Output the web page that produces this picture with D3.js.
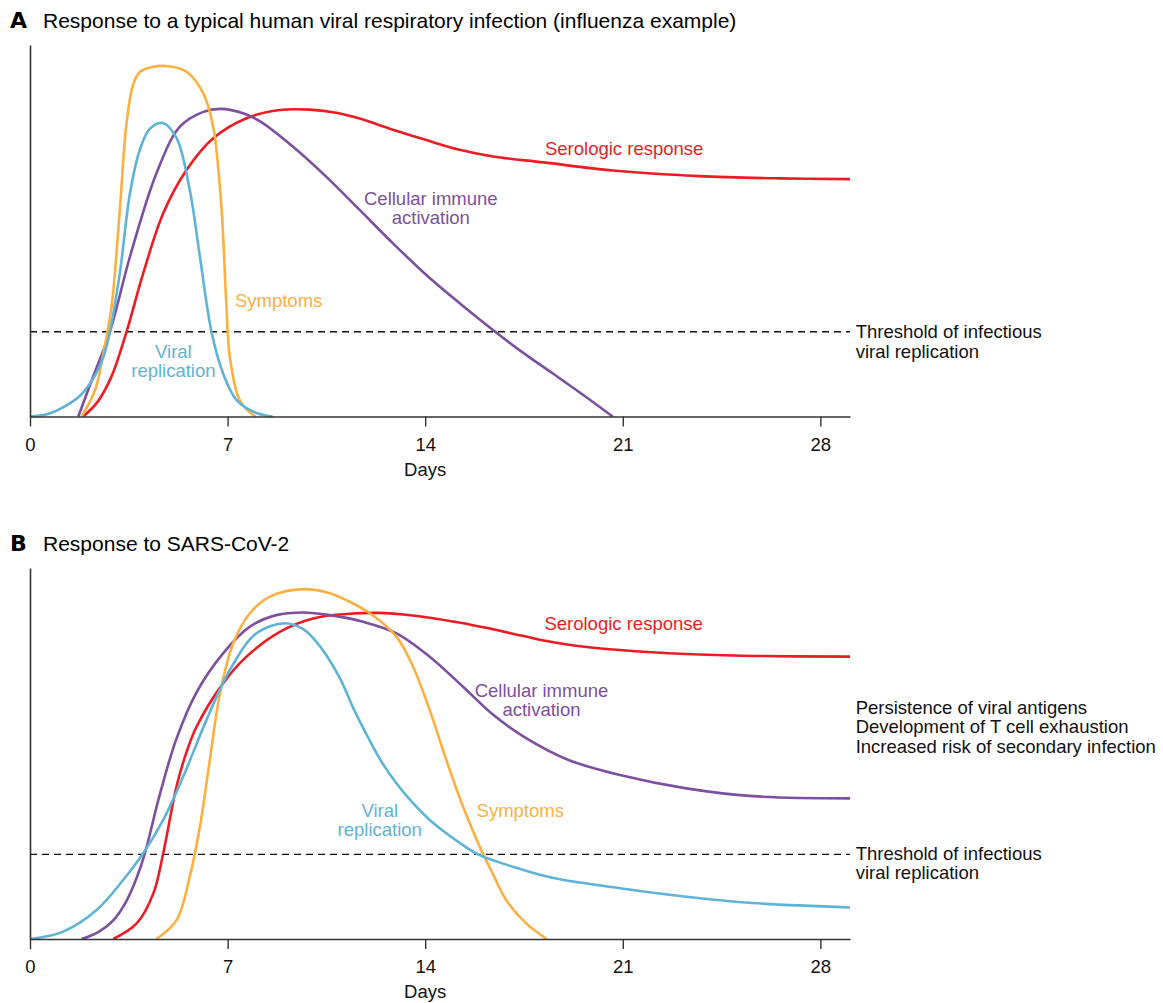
<!DOCTYPE html>
<html>
<head>
<meta charset="utf-8">
<script src="https://cdn.jsdelivr.net/npm/d3@7"></script>
<style>
    body { margin: 0; background: #fff; }
    svg { display: block; font-family: "Liberation Sans", Arial, Helvetica, sans-serif; }
</style>
</head>
<body>
<svg id="chart" width="1163" height="1003"></svg>
<script>
// x ticks (days)
var dayTicks = [0, 7, 14, 21, 28];
var threshold = 0.228;

// Panel A: influenza, [day, relative level]
var fluViral = [[0,0],[0.6,0.006],[1.2,0.026],[1.8,0.058],[2.3,0.11],[2.6,0.16],[2.83,0.228],[3.19,0.39],[3.54,0.6],[3.9,0.72],[4.25,0.775],[4.7,0.79],[5.19,0.75],[5.66,0.61],[6.02,0.43],[6.43,0.228],[6.84,0.116],[7.32,0.044],[8.0,0.01],[8.6,0]];
var fluSymptoms = [[1.83,0],[2.3,0.07],[2.6,0.17],[2.89,0.296],[3.19,0.565],[3.42,0.79],[3.66,0.895],[3.9,0.928],[4.3,0.94],[4.9,0.943],[5.55,0.928],[6.14,0.87],[6.49,0.78],[6.78,0.565],[6.96,0.296],[7.08,0.16],[7.43,0.044],[7.9,0.004],[8.0,0]];
var fluCellular = [[1.71,0],[2.2,0.1],[2.83,0.228],[3.54,0.43],[4.48,0.655],[5.31,0.78],[6.14,0.82],[6.78,0.828],[7.55,0.816],[8.14,0.795],[9.32,0.726],[10.5,0.645],[11.68,0.556],[12.86,0.466],[14.04,0.381],[15.22,0.305],[16.4,0.233],[17.5,0.17],[18.5,0.117],[19.6,0.058],[20.64,0]];
var fluSerologic = [[1.89,0],[2.4,0.04],[2.9,0.11],[3.42,0.228],[4.01,0.385],[4.72,0.547],[5.55,0.664],[6.49,0.749],[7.67,0.803],[8.85,0.825],[9.9,0.826],[10.9,0.817],[11.68,0.802],[12.86,0.772],[14.04,0.744],[15.22,0.718],[16.4,0.7],[18.2,0.684],[20.65,0.662],[23.7,0.647],[26.5,0.641],[29.05,0.639]];

// Panel B: SARS-CoV-2
var covViral = [[0,0],[1.18,0.02],[2.36,0.078],[3.3,0.159],[4.01,0.231],[4.72,0.321],[5.43,0.438],[6.25,0.59],[7.08,0.725],[8.02,0.824],[9.03,0.851],[9.68,0.835],[10.1,0.805],[10.5,0.765],[11.0,0.7],[11.5,0.615],[12.0,0.54],[12.5,0.472],[12.98,0.42],[13.57,0.366],[14.16,0.321],[14.75,0.285],[15.34,0.253],[15.93,0.226],[17.1,0.195],[18.5,0.165],[20.9,0.137],[23.25,0.114],[25.6,0.097],[29.05,0.085]];
var covSymptoms = [[4.48,0],[5.19,0.051],[5.66,0.168],[6.02,0.303],[6.37,0.482],[6.73,0.662],[7.2,0.797],[7.79,0.878],[8.5,0.923],[9.68,0.943],[10.62,0.932],[11.3,0.91],[12.04,0.878],[12.98,0.815],[13.57,0.734],[14.16,0.617],[14.75,0.482],[15.34,0.357],[15.93,0.249],[16.4,0.175],[16.87,0.105],[17.58,0.042],[18.3,0]];
var covCellular = [[1.83,0],[2.4,0.018],[2.95,0.05],[3.4,0.1],[3.78,0.165],[4.07,0.231],[4.6,0.39],[5.19,0.54],[5.9,0.665],[6.84,0.77],[7.79,0.842],[8.73,0.873],[9.68,0.88],[10.62,0.873],[11.8,0.855],[12.98,0.824],[14.16,0.761],[15.34,0.68],[16.4,0.605],[17.5,0.545],[19.1,0.482],[20.9,0.442],[23.25,0.406],[25.6,0.385],[29.05,0.379]];
var covSerologic = [[2.95,0],[3.78,0.042],[4.37,0.123],[4.72,0.231],[5.19,0.411],[5.55,0.505],[5.9,0.572],[6.84,0.689],[7.67,0.761],[8.85,0.828],[10.03,0.864],[11.21,0.876],[12.39,0.879],[13.3,0.874],[14.16,0.866],[15.2,0.853],[16.2,0.838],[17.4,0.818],[18.3,0.803],[19.2,0.792],[20.9,0.779],[23.25,0.768],[25.6,0.763],[29.05,0.761]];

var colors = {
    viral: '#5fb3d7',
    symptoms: '#fbb040',
    cellular: '#7d509f',
    serologic: '#ed1c24'
};

var svg = d3.select('#chart');
var x = d3.scaleLinear().domain([0, 29.05]).range([30, 850]);
var fontSize = 18.5;

function panel(opts) {
    var y = d3.scaleLinear().domain([0, 1]).range([opts.bottom, opts.top]);
    var g = svg.append('g');

    // title
    g.append('text')
        .attr('x', 10).attr('y', opts.titleY)
        .attr('font-size', 22).attr('font-weight', 'bold')
        .attr('font-family', '"DejaVu Sans", sans-serif')
        .text(opts.letter);
    g.append('text')
        .attr('x', 43).attr('y', opts.titleY)
        .attr('font-size', 21)
        .text(opts.title);

    // threshold
    g.append('line')
        .attr('x1', x(0)).attr('x2', x(29.05))
        .attr('y1', y(threshold)).attr('y2', y(threshold))
        .attr('stroke', '#111').attr('stroke-width', 1.4)
        .attr('stroke-dasharray', '7,5');

    var line = d3.line()
        .x(function(d) { return x(d[0]); })
        .y(function(d) { return y(d[1]); })
        .curve(d3.curveCatmullRom.alpha(0.5));

    opts.series.forEach(function(s) {
        g.append('path')
            .datum(s.data)
            .attr('fill', 'none')
            .attr('stroke', colors[s.key])
            .attr('stroke-width', 2.6)
            .attr('stroke-linejoin', 'round')
            .attr('d', line);
    });

    // axes
    var xAxis = g.append('g')
        .attr('transform', 'translate(0,' + opts.bottom + ')')
        .call(d3.axisBottom(x).tickValues(dayTicks).tickSize(10).tickSizeOuter(0).tickPadding(11));
    xAxis.select('.domain').attr('stroke', '#333').attr('stroke-width', 1.6);
    xAxis.selectAll('.tick line').attr('stroke', '#333').attr('stroke-width', 1.4);
    xAxis.selectAll('.tick text')
        .attr('font-size', fontSize).attr('fill', '#111')
        .attr('font-family', '"Liberation Sans", Arial, sans-serif');

    var yAxis = g.append('g')
        .attr('transform', 'translate(' + x(0) + ',0)')
        .call(d3.axisLeft(y).tickValues([]).tickSizeOuter(0));
    yAxis.select('.domain').attr('stroke', '#333').attr('stroke-width', 1.6);

    g.append('text')
        .attr('x', x(14)).attr('y', opts.bottom + 59)
        .attr('text-anchor', 'middle')
        .attr('font-size', fontSize).attr('fill', '#111')
        .text('Days');

    // curve labels
    opts.labels.forEach(function(l) {
        var t = g.append('text')
            .attr('x', x(l.day)).attr('y', y(l.val))
            .attr('text-anchor', l.anchor || 'middle')
            .attr('font-size', fontSize)
            .attr('fill', l.key ? colors[l.key] : '#111');
        l.lines.forEach(function(s, i) {
            t.append('tspan')
                .attr('x', x(l.day))
                .attr('dy', i === 0 ? 0 : 19.5)
                .text(s);
        });
    });
}

panel({
    letter: 'A',
    title: 'Response to a typical human viral respiratory infection (influenza example)',
    titleY: 27.5,
    top: 45,
    bottom: 416.5,
    series: [
        { key: 'serologic', data: fluSerologic },
        { key: 'cellular', data: fluCellular },
        { key: 'symptoms', data: fluSymptoms },
        { key: 'viral', data: fluViral }
    ],
    labels: [
        { key: 'serologic', day: 21.05, val: 0.705, lines: ['Serologic response'] },
        { key: 'cellular', day: 14.2, val: 0.57, lines: ['Cellular immune', 'activation'] },
        { key: 'symptoms', day: 7.26, val: 0.295, anchor: 'start', lines: ['Symptoms'] },
        { key: 'viral', day: 5.08, val: 0.158, lines: ['Viral', 'replication'] },
        { day: 29.25, val: 0.211, anchor: 'start', lines: ['Threshold of infectious', 'viral replication'] }
    ]
});

panel({
    letter: 'B',
    title: 'Response to SARS-CoV-2',
    titleY: 550.5,
    top: 568,
    bottom: 939,
    series: [
        { key: 'serologic', data: covSerologic },
        { key: 'cellular', data: covCellular },
        { key: 'symptoms', data: covSymptoms },
        { key: 'viral', data: covViral }
    ],
    labels: [
        { key: 'serologic', day: 21.03, val: 0.834, lines: ['Serologic response'] },
        { key: 'cellular', day: 18.12, val: 0.653, lines: ['Cellular immune', 'activation'] },
        { key: 'symptoms', day: 15.82, val: 0.33, anchor: 'start', lines: ['Symptoms'] },
        { key: 'viral', day: 12.39, val: 0.33, lines: ['Viral', 'replication'] },
        { day: 29.25, val: 0.607, anchor: 'start', lines: ['Persistence of viral antigens', 'Development of T cell exhaustion', 'Increased risk of secondary infection'] },
        { day: 29.25, val: 0.214, anchor: 'start', lines: ['Threshold of infectious', 'viral replication'] }
    ]
});
</script>
</body>
</html>
